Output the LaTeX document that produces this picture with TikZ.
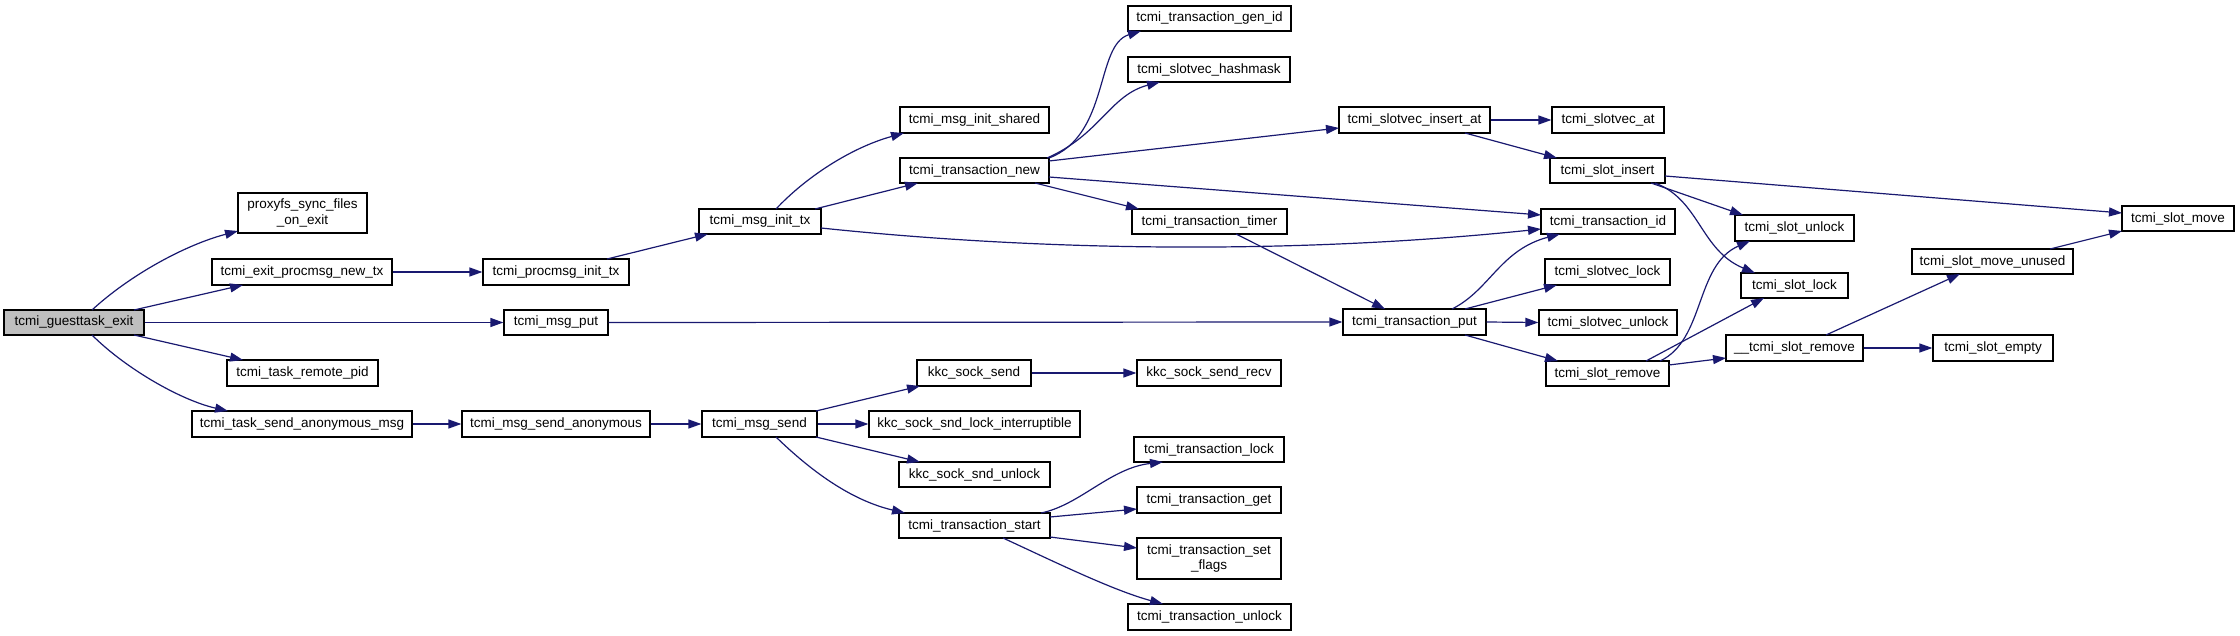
\documentclass[tikz,border=0pt]{standalone}
\usepackage{fontspec}
\setmainfont{Liberation Sans}
\usetikzlibrary{arrows.meta,calc}
\definecolor{edgec}{RGB}{25,25,112}
\definecolor{gfill}{RGB}{191,191,191}
\newcommand\mynode[7][]{\node[box,minimum width=#5pt,minimum height=#6pt,#1] (#2) at (#3,#4) {#7};}
\begin{document}
\begin{tikzpicture}[x=1pt,y=-1pt,
  box/.style={draw=black,line width=1.2pt,fill=white,inner sep=0pt,align=center,
    font=\fontsize{13.5}{15.5}\selectfont},
  edge/.style={draw=edgec,line width=1.2pt,-{Triangle[length=13pt,width=9pt]}}]
\fill[white] (0,0) rectangle (2240,636);
\useasboundingbox (0,0) rectangle (2240,636);
% nodes
\mynode[fill=gfill]{ge}{74}{322.5}{140}{25}{tcmi\_guesttask\_exit}
\mynode{pfs}{302.5}{213}{129}{40}{proxyfs\_sync\_files\\\_on\_exit}
\mynode{epn}{302}{272}{180}{26}{tcmi\_exit\_procmsg\_new\_tx}
\mynode{pit}{556}{272}{146}{26}{tcmi\_procmsg\_init\_tx}
\mynode{mput}{556}{322.5}{104}{25}{tcmi\_msg\_put}
\mynode{trp}{302.5}{373}{151}{26}{tcmi\_task\_remote\_pid}
\mynode{tsam}{302}{424}{220}{26}{tcmi\_task\_send\_anonymous\_msg}
\mynode{msa}{556}{424}{188}{26}{tcmi\_msg\_send\_anonymous}
\mynode{mit}{760}{221.5}{122}{25}{tcmi\_msg\_init\_tx}
\mynode{mis}{974.5}{120}{149}{26}{tcmi\_msg\_init\_shared}
\mynode{tn}{974.5}{170.5}{149}{25}{tcmi\_transaction\_new}
\mynode{gid}{1209.5}{18.5}{163}{25}{tcmi\_transaction\_gen\_id}
\mynode{hm}{1209}{69.5}{162}{25}{tcmi\_slotvec\_hashmask}
\mynode{ttimer}{1209.5}{221.5}{155}{25}{tcmi\_transaction\_timer}
\mynode{sia}{1414.5}{120}{151}{26}{tcmi\_slotvec\_insert\_at}
\mynode{tput}{1414.5}{322}{143}{26}{tcmi\_transaction\_put}
\mynode{sva}{1608}{120}{112}{26}{tcmi\_slotvec\_at}
\mynode{sins}{1607.5}{170.5}{115}{25}{tcmi\_slot\_insert}
\mynode{tid}{1608}{221.5}{134}{25}{tcmi\_transaction\_id}
\mynode{svl}{1607.5}{272}{125}{26}{tcmi\_slotvec\_lock}
\mynode{svu}{1608}{322.5}{138}{25}{tcmi\_slotvec\_unlock}
\mynode{srem}{1607.5}{373.5}{123}{25}{tcmi\_slot\_remove}
\mynode{sul}{1794.5}{228}{119}{26}{tcmi\_slot\_unlock}
\mynode{sl}{1794.5}{285.5}{107}{25}{tcmi\_slot\_lock}
\mynode{usrem}{1794.5}{348}{137}{26}{\_\_tcmi\_slot\_remove}
\mynode{smu}{1992.5}{261.5}{161}{25}{tcmi\_slot\_move\_unused}
\mynode{sem}{1993}{348}{120}{26}{tcmi\_slot\_empty}
\mynode{smove}{2178}{218.5}{112}{25}{tcmi\_slot\_move}
\mynode{msend}{759.5}{424}{115}{26}{tcmi\_msg\_send}
\mynode{kss}{974}{373}{114}{26}{kkc\_sock\_send}
\mynode{ksli}{974.5}{424}{211}{26}{kkc\_sock\_snd\_lock\_interruptible}
\mynode{ksu}{974.5}{474.5}{151}{25}{kkc\_sock\_snd\_unlock}
\mynode{ts}{974.5}{525.5}{151}{25}{tcmi\_transaction\_start}
\mynode{kssr}{1209}{373}{144}{26}{kkc\_sock\_send\_recv}
\mynode{tlock}{1209}{449.5}{150}{25}{tcmi\_transaction\_lock}
\mynode{tget}{1209}{500}{144}{26}{tcmi\_transaction\_get}
\mynode{tsf}{1209}{558.5}{144}{41}{tcmi\_transaction\_set\\\_flags}
\mynode{tul}{1209.5}{617}{163}{26}{tcmi\_transaction\_unlock}
% edges
\draw[edge] ($(ge)+(18,-12.5)$) .. controls (130,275) and (185,245) .. ($(pfs)+(-64.5,18)$);
\draw[edge] ($(ge)+(60,-12.5)$) -- ($(epn)+(-59,13)$);
\draw[edge] (ge.east) -- (mput.west);
\draw[edge] ($(ge)+(60,12.5)$) -- ($(trp)+(-59.5,-13)$);
\draw[edge] ($(ge)+(18,12.5)$) .. controls (125,368) and (180,400) .. ($(tsam)+(-74,-13)$);
\draw[edge] (epn.east) -- (pit.west);
\draw[edge] ($(pit)+(51,-13)$) -- ($(mit)+(-52,12.5)$);
\draw[edge] ($(mit)+(16,-12.5)$) .. controls (805,178) and (850,148) .. ($(mis)+(-70.5,13)$);
\draw[edge] ($(mit)+(55,-12.5)$) -- ($(tn)+(-56.5,12.5)$);
\draw[edge] ($(mit)+(61,6.5)$) .. controls (1050,252) and (1300,254) .. ($(tid)+(-67,7.5)$);
\draw[edge] ($(tn)+(74.5,-12.5)$) .. controls (1110,135) and (1095,45) .. ($(gid)+(-68.5,12.5)$);
\draw[edge] ($(tn)+(72.5,-12.5)$) .. controls (1100,135) and (1110,95) .. ($(hm)+(-49,12.5)$);
\draw[edge] ($(tn)+(74.5,-9.5)$) -- ($(sia)+(-75.5,8)$);
\draw[edge] ($(tn)+(74.5,6.5)$) -- ($(tid)+(-67,-6.5)$);
\draw[edge] ($(tn)+(60.5,12.5)$) -- ($(ttimer)+(-70.5,-12.5)$);
\draw[edge] ($(ttimer)+(26.5,12.5)$) -- ($(tput)+(-29.5,-13)$);
\draw[edge] (mput.east) -- (tput.west);
\draw[edge] (sia.east) -- (sva.west);
\draw[edge] ($(sia)+(50.5,13)$) -- ($(sins)+(-50.5,-12.5)$);
\draw[edge] ($(sins)+(57.5,5.5)$) -- ($(smove)+(-56,-5.5)$);
\draw[edge] ($(sins)+(43.5,12.5)$) -- ($(sul)+(-51.5,-13)$);
\draw[edge] ($(sins)+(47.5,12.5)$) .. controls (1700,200) and (1700,250) .. ($(sl)+(-39.5,-12.5)$);
\draw[edge] ($(tput)+(37.5,-13)$) .. controls (1490,290) and (1500,250) .. ($(tid)+(-48,12.5)$);
\draw[edge] ($(tput)+(50.5,-13)$) -- ($(svl)+(-50.5,13)$);
\draw[edge] (tput.east) -- (svu.west);
\draw[edge] ($(tput)+(50.5,13)$) -- ($(srem)+(-49.5,-12.5)$);
\draw[edge] ($(srem)+(52.5,-12.5)$) .. controls (1705,340) and (1695,265) .. ($(sul)+(-44.5,13)$);
\draw[edge] ($(srem)+(38.5,-12.5)$) -- ($(sl)+(-30.5,12.5)$);
\draw[edge] ($(srem)+(61.5,-8.5)$) -- ($(usrem)+(-68.5,10)$);
\draw[edge] ($(usrem)+(31.5,-13)$) -- ($(smu)+(-32.5,12.5)$);
\draw[edge] (usrem.east) -- (sem.west);
\draw[edge] ($(smu)+(57.5,-12.5)$) -- ($(smove)+(-56,12.5)$);
\draw[edge] (tsam.east) -- (msa.west);
\draw[edge] (msa.east) -- (msend.west);
\draw[edge] ($(msend)+(56.5,-13)$) -- ($(kss)+(-54,13)$);
\draw[edge] (msend.east) -- (ksli.west);
\draw[edge] ($(msend)+(56.5,13)$) -- ($(ksu)+(-54.5,-12.5)$);
\draw[edge] ($(msend)+(16.5,13)$) .. controls (810,470) and (850,500) .. ($(ts)+(-69.5,-12.5)$);
\draw[edge] (kss.east) -- (kssr.west);
\draw[edge] ($(ts)+(66.5,-12.5)$) .. controls (1080,505) and (1110,468) .. ($(tlock)+(-46,12.5)$);
\draw[edge] ($(ts)+(75.5,-8.5)$) -- ($(tget)+(-72,9)$);
\draw[edge] ($(ts)+(75.5,11.5)$) -- ($(tsf)+(-72,-10.5)$);
\draw[edge] ($(ts)+(28.5,12.5)$) .. controls (1055,562) and (1112,590) .. ($(tul)+(-46.5,-13)$);
\end{tikzpicture}
\end{document}
